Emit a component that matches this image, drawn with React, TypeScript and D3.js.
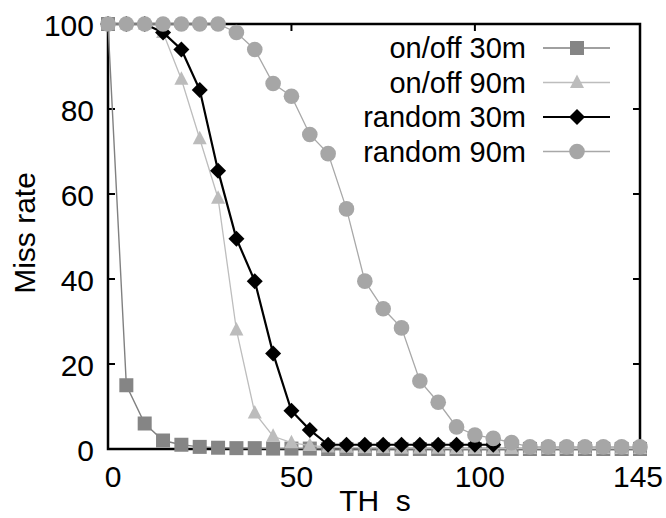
import React, { useEffect, useRef } from 'react';
import * as d3 from 'd3';

// x positions (TH s), every 5 s
const thValues = d3.range(0, 146, 5);

const onoff30 = [100, 15, 6, 2, 1, 0.5, 0.3, 0.2, 0.2, 0.1, 0.1, 0.1, 0, 0, 0, 0, 0, 0, 0, 0, 0, 0, 0, 0, 0, 0, 0, 0, 0, 0];
const onoff90 = [100, 100, 100, 98, 87, 73, 59, 28, 8.5, 3, 1.5, 0.8, 0.5, 0.4, 0.3, 0.3, 0.2, 0.2, 0.2, 0.1, 0.1, 0.1, 0.1, 0.1, 0.1, 0.1, 0.1, 0.1, 0.1, 0.1];
const random30 = [100, 100, 100, 98, 94, 84.5, 65.5, 49.5, 39.5, 22.5, 9, 4.5, 1, 1, 1, 1, 1, 1, 1, 1, 1, 1];
const random90 = [100, 100, 100, 100, 100, 100, 100, 98, 94, 86, 83, 74, 69.5, 56.5, 39.5, 33, 28.5, 16, 11, 5.2, 3.3, 2.5, 1.5, 0.5, 0.5, 0.5, 0.5, 0.5, 0.5, 0.5];

const seriesNames = ['on/off 30m', 'on/off 90m', 'random 30m', 'random 90m'];
const xTicks = [0, 50, 100, 145];
const yTicks = [0, 20, 40, 60, 80, 100];

const App = () => {
  const ref = useRef(null);

  useEffect(() => {
    drawChart();
  }, []);

  const drawChart = () => {
    const svg = d3.select(ref.current);
    svg.selectAll('*').remove();

    const x = d3.scaleLinear().domain([0, 145]).range([108, 640]);
    const y = d3.scaleLinear().domain([0, 100]).range([449, 24]);

    const font = '"Liberation Sans", Arial, Helvetica, sans-serif';

    const styles = [
      { line: '#808080', width: 1.4, fill: '#858585', shape: 'square' },
      { line: '#bdbdbd', width: 1.3, fill: '#bcbcbc', shape: 'triangle' },
      { line: '#000000', width: 2.2, fill: '#000000', shape: 'diamond' },
      { line: '#a8a8a8', width: 1.3, fill: '#a6a6a6', shape: 'circle' },
    ];
    const data = [onoff30, onoff90, random30, random90];

    const drawMarker = (g, shape, cx, cy, fill) => {
      if (shape === 'square') {
        g.append('rect').attr('x', cx - 7).attr('y', cy - 7).attr('width', 14).attr('height', 14).attr('fill', fill);
      } else if (shape === 'triangle') {
        g.append('path').attr('d', `M${cx},${cy - 8}L${cx + 7},${cy + 5.5}L${cx - 7},${cy + 5.5}Z`).attr('fill', fill);
      } else if (shape === 'diamond') {
        g.append('path').attr('d', `M${cx},${cy - 8}L${cx + 8},${cy}L${cx},${cy + 8}L${cx - 8},${cy}Z`).attr('fill', fill);
      } else {
        g.append('circle').attr('cx', cx).attr('cy', cy).attr('r', 7.8).attr('fill', fill);
      }
    };

    // frame
    svg.append('rect')
      .attr('x', x(0)).attr('y', y(100))
      .attr('width', x(145) - x(0)).attr('height', y(0) - y(100))
      .attr('fill', 'none').attr('stroke', '#000').attr('stroke-width', 2.5);

    // inward ticks
    const tk = svg.append('g').attr('stroke', '#000').attr('stroke-width', 2);
    yTicks.filter(d => d > 0 && d < 100).forEach(d => {
      tk.append('line').attr('x1', x(0)).attr('x2', x(0) + 7).attr('y1', y(d)).attr('y2', y(d));
      tk.append('line').attr('x1', x(145)).attr('x2', x(145) - 7).attr('y1', y(d)).attr('y2', y(d));
    });
    [50, 100].forEach(d => {
      tk.append('line').attr('x1', x(d)).attr('x2', x(d)).attr('y1', y(100)).attr('y2', y(100) + 7);
      tk.append('line').attr('x1', x(d)).attr('x2', x(d)).attr('y1', y(0)).attr('y2', y(0) - 7);
    });

    // tick labels
    svg.append('g').selectAll('text').data(yTicks).join('text')
      .attr('x', 94).attr('y', d => y(d) + 12)
      .attr('text-anchor', 'end')
      .style('font-family', font).style('font-size', '30px')
      .text(d => d);
    svg.append('g').selectAll('text').data(xTicks).join('text')
      .attr('x', d => (d === 145 ? 638 : x(d) + 5)).attr('y', 487)
      .attr('text-anchor', 'middle')
      .style('font-family', font).style('font-size', '30px')
      .text(d => d);

    // axis titles
    svg.append('text')
      .attr('x', 375).attr('y', 511)
      .attr('text-anchor', 'middle')
      .attr('xml:space', 'preserve')
      .style('white-space', 'pre')
      .style('font-family', font).style('font-size', '30px')
      .text('TH  s');
    svg.append('text')
      .attr('transform', 'translate(35,233) rotate(-90)')
      .attr('text-anchor', 'middle')
      .style('font-family', font).style('font-size', '30px')
      .text('Miss rate');

    // series
    const line = d3.line().x(d => x(d[0])).y(d => y(d[1]));
    data.forEach((vals, i) => {
      const pts = vals.map((v, j) => [thValues[j], v]);
      const st = styles[i];
      const g = svg.append('g');
      g.append('path').attr('d', line(pts)).attr('fill', 'none')
        .attr('stroke', st.line).attr('stroke-width', st.width);
      pts.forEach(p => drawMarker(g, st.shape, x(p[0]), y(p[1]), st.fill));
    });

    // legend
    const lg = svg.append('g');
    seriesNames.forEach((name, i) => {
      const ly = 48 + i * 34.5;
      const st = styles[i];
      lg.append('text')
        .attr('x', 526).attr('y', ly + 10)
        .attr('text-anchor', 'end')
        .style('font-family', font).style('font-size', '29px')
        .text(name);
      lg.append('line').attr('x1', 543).attr('x2', 610).attr('y1', ly).attr('y2', ly)
        .attr('stroke', st.line).attr('stroke-width', st.width);
      drawMarker(lg, st.shape, 577, ly, st.fill);
    });
  };

  return (
    <svg ref={ref} width={666} height={518}
      style={{ position: 'absolute', left: 0, top: 0, background: '#fff' }} />
  );
};

export default App;
